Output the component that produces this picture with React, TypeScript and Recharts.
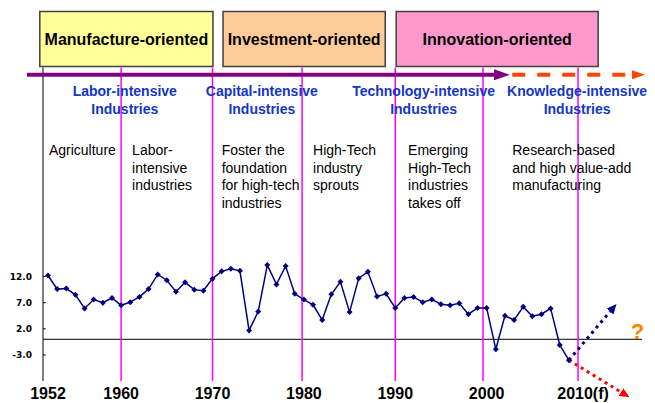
import React from 'react';
import {
  ComposedChart,
  Line,
  XAxis,
  YAxis,
  ReferenceLine,
  ReferenceArea,
  ReferenceDot,
} from 'recharts';

// economic growth rate (%)
const years = [
  1952, 1953, 1954, 1955, 1956, 1957, 1958, 1959, 1960, 1961,
  1962, 1963, 1964, 1965, 1966, 1967, 1968, 1969, 1970, 1971,
  1972, 1973, 1974, 1975, 1976, 1977, 1978, 1979, 1980, 1981,
  1982, 1983, 1984, 1985, 1986, 1987, 1988, 1989, 1990, 1991,
  1992, 1993, 1994, 1995, 1996, 1997, 1998, 1999, 2000, 2001,
  2002, 2003, 2004, 2005, 2006, 2007, 2008, 2009,
];
const growth = [
  12.2, 9.6, 9.7, 8.5, 5.9, 7.6, 7.0, 7.9, 6.5, 7.1,
  8.1, 9.6, 12.4, 11.3, 9.1, 10.9, 9.5, 9.3, 11.6, 13.0,
  13.5, 13.1, 1.7, 5.3, 14.2, 10.5, 14.0, 8.7, 7.6, 6.6,
  3.7, 8.6, 11.0, 5.2, 11.7, 12.9, 8.2, 8.7, 6.0, 7.9,
  8.1, 7.1, 7.6, 6.7, 6.5, 6.9, 4.8, 6.0, 6.0, -1.9,
  4.5, 3.7, 6.2, 4.4, 4.8, 5.9, -1.1, -4.0,
];

// forecast scenarios out of 2009
const upsideYears = [2009, 2013.5];
const upsideValues = [-4.0, 5.3];
const downsideYears = [2009, 2014.7];
const downsideValues = [-4.0, -10.1];

const stages = ['Manufacture-oriented', 'Investment-oriented', 'Innovation-oriented'];
const industries = [
  ['Labor-intensive', 'Industries'],
  ['Capital-intensive', 'Industries'],
  ['Technology-intensive', 'Industries'],
  ['Knowledge-intensive', 'Industries'],
];
const notes = [
  ['Agriculture'],
  ['Labor-', 'intensive', 'industries'],
  ['Foster the', 'foundation', 'for high-tech', 'industries'],
  ['High-Tech', 'industry', 'sprouts'],
  ['Emerging', 'High-Tech', 'industries', 'takes off'],
  ['Research-based', 'and high value-add', 'manufacturing'],
];
const dividerYears = [1960, 1970, 1979.8, 1990, 1999.6, 2010];
const xTicks = [1952, 1960, 1970, 1980, 1990, 2000, 2010];
const yTicks = [-3, 2, 7, 12];

const chartData = years.map((year, i) => ({ year, value: growth[i] }));
const upside = upsideYears.map((year, i) => ({ year, value: upsideValues[i] }));
const downside = downsideYears.map((year, i) => ({ year, value: downsideValues[i] }));

// layout (data units)
const X_DOMAIN: [number, number] = [1951.45, 2017];
const Y_DOMAIN: [number, number] = [-12, 63];
const stageSpans = [[1951.1, 1970.05], [1971.15, 1988.9], [1990.1, 2012.2]];
const stageFills = ['#FFFF99', '#FFCC99', '#FF99CC'];
const industryX = [1960.4, 1975.4, 1993.1, 2009.9];
const noteX = [1952.1, 1961.2, 1971.0, 1981.0, 1991.4, 2002.8];

const NAVY = '#000080';

const textBlock = (lines: string[], anchor: string, bold: boolean, color: string) =>
  (p: any) => (
    <text
      x={p.cx}
      y={p.cy}
      textAnchor={anchor}
      fontSize={14}
      fontWeight={bold ? 'bold' : 'normal'}
      fill={color}
    >
      {lines.map((l, i) => (
        <tspan key={i} x={p.cx} dy={i === 0 ? '0.35em' : 17.7}>
          {l}
        </tspan>
      ))}
    </text>
  );

const Diamond = (p: any) => {
  const s = 3;
  return (
    <path
      key={`d${p.index}`}
      d={`M${p.cx},${p.cy - s}L${p.cx + s},${p.cy}L${p.cx},${p.cy + s}L${p.cx - s},${p.cy}Z`}
      fill={NAVY}
    />
  );
};

const XTick = ({ x, y, payload }: any) => {
  const last = payload.value === 2010;
  return (
    <text
      x={x + (last ? 5 : 0)}
      y={y}
      dy={-3.5}
      textAnchor="middle"
      fontSize={16}
      fontWeight="bold"
      fill="#000"
    >
      {last ? '2010(f)' : payload.value}
    </text>
  );
};

export default function App() {
  return (
    <div
      style={{
        position: 'absolute',
        left: 0,
        top: 0,
        width: 655,
        height: 403,
        background: '#fff',
        fontFamily: '"Liberation Sans", Arial, sans-serif',
      }}
    >
      <ComposedChart
        width={655}
        height={403}
        data={chartData}
        margin={{ top: 10, right: 13, bottom: 0, left: 0 }}
      >
        <defs>
          <marker id="arrPurple" viewBox="0 0 16 11" refX="0" refY="5.5" markerWidth="16" markerHeight="11" orient="auto" markerUnits="userSpaceOnUse">
            <path d="M0,0L16,5.5L0,11Z" fill="#800080" />
          </marker>
          <marker id="arrOrange" viewBox="0 0 13 9" refX="0" refY="4.5" markerWidth="13" markerHeight="9" orient="auto" markerUnits="userSpaceOnUse">
            <path d="M0,0L13,4.5L0,9Z" fill="#FF4500" />
          </marker>
          <marker id="arrBlue" viewBox="0 0 10 9" refX="0" refY="4.5" markerWidth="10" markerHeight="9" orient="auto" markerUnits="userSpaceOnUse">
            <path d="M0,0L10,4.5L0,9Z" fill={NAVY} />
          </marker>
          <marker id="arrRed" viewBox="0 0 10 9" refX="0" refY="4.5" markerWidth="10" markerHeight="9" orient="auto" markerUnits="userSpaceOnUse">
            <path d="M0,0L10,4.5L0,9Z" fill="#FF0000" />
          </marker>
        </defs>

        <XAxis
          type="number"
          dataKey="year"
          domain={X_DOMAIN}
          allowDataOverflow
          ticks={xTicks}
          interval={0}
          height={1}
          tickSize={0}
          tickMargin={0}
          axisLine={false}
          tickLine={false}
          tick={<XTick />}
        />
        <YAxis
          type="number"
          domain={Y_DOMAIN}
          allowDataOverflow
          ticks={yTicks}
          interval={0}
          width={43}
          tickSize={0}
          tickMargin={11}
          axisLine={false}
          tickLine={false}
          tickFormatter={(v: number) => v.toFixed(1)}
          tick={{ fontSize: 9, fontWeight: 'bold', fill: '#000', fontFamily: '"DejaVu Sans"' }}
        />

        {stages.map((s, i) => (
          <ReferenceArea
            key={s}
            x1={stageSpans[i][0]}
            x2={stageSpans[i][1]}
            y1={52.2}
            y2={62.7}
            ifOverflow="visible"
            fill={stageFills[i]}
            fillOpacity={1}
            stroke="#404040"
            strokeWidth={1.5}
            label={{ value: s, position: 'center', fill: '#000', fontSize: 16, fontWeight: 'bold' }}
          />
        ))}

        {/* axes drawn by hand so they stop where the slide's do */}
        <ReferenceLine
          segment={[{ x: X_DOMAIN[0], y: -8 }, { x: X_DOMAIN[0], y: 52 }]}
          stroke="#000"
          strokeWidth={1}
          ifOverflow="visible"
        />
        {yTicks.map((t) => (
          <ReferenceLine
            key={t}
            segment={[{ x: X_DOMAIN[0], y: t }, { x: X_DOMAIN[0] + 0.3, y: t }]}
            stroke="#000"
            strokeWidth={1}
            ifOverflow="visible"
          />
        ))}
        <ReferenceLine y={0} stroke="#000" strokeWidth={1} />
        {dividerYears.map((d) => (
          <ReferenceLine
            key={d}
            segment={[{ x: d, y: -8 }, { x: d, y: 52 }]}
            stroke="#FF00FF"
            strokeWidth={1.5}
            ifOverflow="visible"
          />
        ))}

        {/* development timeline arrow */}
        <ReferenceLine
          segment={[{ x: 1949.7, y: 50.6 }, { x: 2000.8, y: 50.6 }]}
          stroke="#800080"
          strokeWidth={4}
          ifOverflow="visible"
          markerEnd="url(#arrPurple)"
        />
        <ReferenceLine
          segment={[{ x: 2002.8, y: 50.6 }, { x: 2015.9, y: 50.6 }]}
          stroke="#FF4500"
          strokeWidth={4}
          strokeDasharray="13 12"
          ifOverflow="visible"
          markerEnd="url(#arrOrange)"
        />

        {industries.map((lines, i) => (
          <ReferenceDot
            key={lines[0]}
            x={industryX[i]}
            y={47.5}
            r={0}
            shape={textBlock(lines, 'middle', true, '#1436C8')}
          />
        ))}
        {notes.map((lines, i) => (
          <ReferenceDot
            key={lines[0]}
            x={noteX[i]}
            y={36.2}
            r={0}
            shape={textBlock(lines, 'start', false, '#000')}
          />
        ))}

        <Line
          type="linear"
          dataKey="value"
          stroke={NAVY}
          strokeWidth={1.5}
          dot={Diamond}
          activeDot={false}
          isAnimationActive={false}
        />
        <Line
          data={upside}
          type="linear"
          dataKey="value"
          stroke={NAVY}
          strokeWidth={3}
          strokeDasharray="3 4"
          dot={false}
          activeDot={false}
          markerEnd="url(#arrBlue)"
          isAnimationActive={false}
        />
        <Line
          data={downside}
          type="linear"
          dataKey="value"
          stroke="#FF0000"
          strokeWidth={3}
          strokeDasharray="3 4"
          dot={false}
          activeDot={false}
          markerEnd="url(#arrRed)"
          isAnimationActive={false}
        />

        <ReferenceDot
          x={2016.5}
          y={0}
          r={0}
          shape={(p: any) => (
            <text x={p.cx} y={p.cy} textAnchor="middle" fontSize={22} fontWeight="bold" fill="#FF8000">
              ?
            </text>
          )}
        />
      </ComposedChart>
    </div>
  );
}
